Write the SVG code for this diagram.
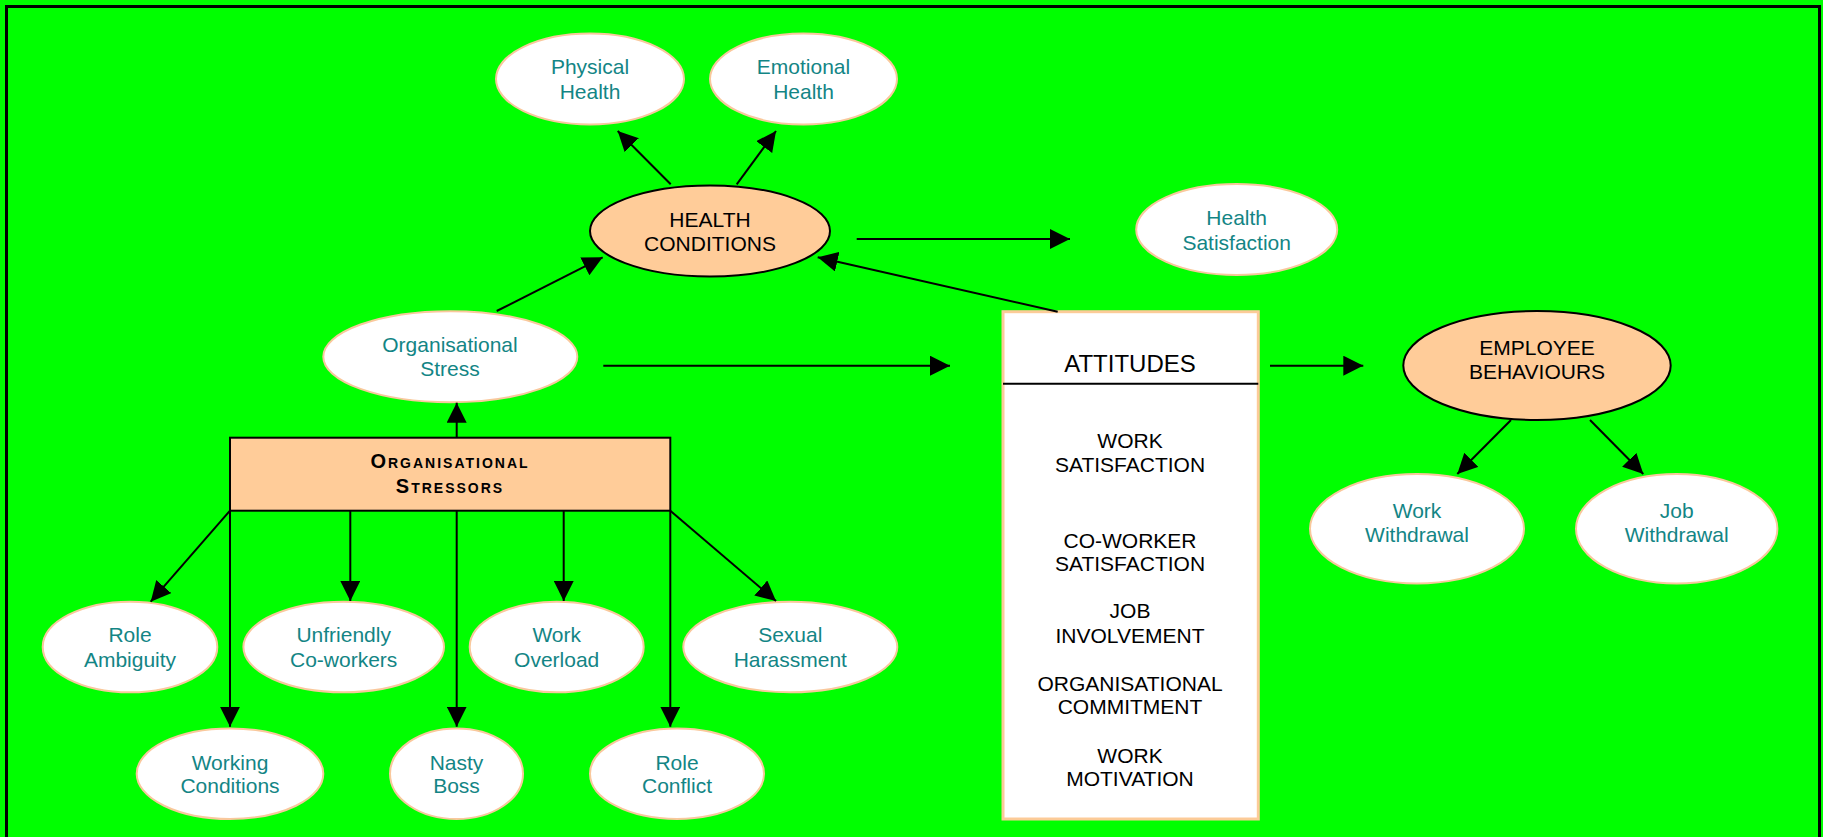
<svg xmlns="http://www.w3.org/2000/svg" width="1823" height="837" viewBox="0 0 1823 837">
<style>
.bg{fill:#00ff00}
.frame{fill:none;stroke:#000;stroke-width:3}
.wn{fill:#fff;stroke:#f9c89c;stroke-width:2}
.on{fill:#ffcc99;stroke:#000;stroke-width:2}
.tl{font-family:"Liberation Sans",Arial,sans-serif;font-size:21px;fill:#138585;text-anchor:middle}
.bl{font-family:"Liberation Sans",Arial,sans-serif;font-size:21px;fill:#000;text-anchor:middle}
.sc{font-family:"Liberation Sans",Arial,sans-serif;font-size:20px;font-weight:bold;font-variant:small-caps;letter-spacing:2px;fill:#000;text-anchor:middle}
.c line{stroke:#000;stroke-width:2;marker-end:url(#ah)}
</style>
<defs>
<marker id="ah" markerUnits="userSpaceOnUse" markerWidth="20" markerHeight="20" refX="20" refY="10" orient="auto">
<path d="M0,0 L20,10 L0,20 z" fill="#000"/>
</marker>
</defs>
<rect class="bg" x="0" y="0" width="1823" height="837"/>
<rect class="frame" x="6.5" y="6.5" width="1813" height="900"/>

<g id="physical-health"><ellipse class="wn" cx="590" cy="79" rx="94" ry="45.5"/><text class="tl" x="590" y="74.3">Physical</text><text class="tl" x="590" y="99">Health</text></g>
<g id="emotional-health"><ellipse class="wn" cx="803.5" cy="79" rx="93.5" ry="45.5"/><text class="tl" x="803.5" y="74.3">Emotional</text><text class="tl" x="803.5" y="99">Health</text></g>
<g id="health-conditions"><ellipse class="on" cx="710" cy="231" rx="120" ry="45.5"/><text class="bl" x="710" y="226.7">HEALTH</text><text class="bl" x="710" y="250.7">CONDITIONS</text></g>
<g id="health-satisfaction"><ellipse class="wn" cx="1236.7" cy="229.5" rx="100.5" ry="45.5"/><text class="tl" x="1236.7" y="225">Health</text><text class="tl" x="1236.7" y="250">Satisfaction</text></g>
<g id="organisational-stress"><ellipse class="wn" cx="450.3" cy="356.7" rx="127" ry="45.5"/><text class="tl" x="450" y="351.7">Organisational</text><text class="tl" x="450" y="376">Stress</text></g>
<g id="organisational-stressors"><rect class="on" x="230" y="437.7" width="440.3" height="73"/><text class="sc" x="450" y="468.3">Organisational</text><text class="sc" x="450" y="493.3">Stressors</text></g>
<g id="attitudes"><rect x="1003" y="311.7" width="255.3" height="507.3" fill="#fff" stroke="#fccb98" stroke-width="3"/><line x1="1003" y1="383.7" x2="1258.3" y2="383.7" stroke="#000" stroke-width="2"/>
<text x="1130" y="371.7" font-family="Liberation Sans,Arial,sans-serif" font-size="24" text-anchor="middle" fill="#000">ATTITUDES</text>
<text class="bl" x="1130" y="448.3">WORK</text><text class="bl" x="1130" y="472.3">SATISFACTION</text>
<text class="bl" x="1130" y="547.7">CO-WORKER</text><text class="bl" x="1130" y="570.7">SATISFACTION</text>
<text class="bl" x="1130" y="618.3">JOB</text><text class="bl" x="1130" y="642.7">INVOLVEMENT</text>
<text class="bl" x="1130" y="690.7">ORGANISATIONAL</text><text class="bl" x="1130" y="714">COMMITMENT</text>
<text class="bl" x="1130" y="762.7">WORK</text><text class="bl" x="1130" y="785.7">MOTIVATION</text></g>
<g id="employee-behaviours"><ellipse class="on" cx="1537" cy="365.5" rx="133.7" ry="54.5"/><text class="bl" x="1537" y="355">EMPLOYEE</text><text class="bl" x="1537" y="379">BEHAVIOURS</text></g>
<g id="work-withdrawal"><ellipse class="wn" cx="1417" cy="528.7" rx="107" ry="54.7"/><text class="tl" x="1417" y="518.3">Work</text><text class="tl" x="1417" y="542.3">Withdrawal</text></g>
<g id="job-withdrawal"><ellipse class="wn" cx="1676.7" cy="528.7" rx="100.7" ry="54.7"/><text class="tl" x="1676.7" y="518.3">Job</text><text class="tl" x="1676.7" y="542.3">Withdrawal</text></g>
<g id="role-ambiguity"><ellipse class="wn" cx="130" cy="647" rx="87.3" ry="45.3"/><text class="tl" x="130" y="641.7">Role</text><text class="tl" x="130" y="666.7">Ambiguity</text></g>
<g id="unfriendly-co-workers"><ellipse class="wn" cx="343.7" cy="647" rx="100.3" ry="45.3"/><text class="tl" x="343.7" y="641.7">Unfriendly</text><text class="tl" x="343.7" y="666.7">Co-workers</text></g>
<g id="work-overload"><ellipse class="wn" cx="556.7" cy="647" rx="87" ry="45.3"/><text class="tl" x="556.7" y="641.7">Work</text><text class="tl" x="556.7" y="666.7">Overload</text></g>
<g id="sexual-harassment"><ellipse class="wn" cx="790.3" cy="647" rx="107" ry="45.3"/><text class="tl" x="790.3" y="641.7">Sexual</text><text class="tl" x="790.3" y="666.7">Harassment</text></g>
<g id="working-conditions"><ellipse class="wn" cx="230" cy="773.7" rx="93.3" ry="45.3"/><text class="tl" x="230" y="770">Working</text><text class="tl" x="230" y="793.3">Conditions</text></g>
<g id="nasty-boss"><ellipse class="wn" cx="456.5" cy="773.7" rx="66.5" ry="45.3"/><text class="tl" x="456.5" y="770">Nasty</text><text class="tl" x="456.5" y="793.3">Boss</text></g>
<g id="role-conflict"><ellipse class="wn" cx="677" cy="773.7" rx="87" ry="45.3"/><text class="tl" x="677" y="770">Role</text><text class="tl" x="677" y="793.3">Conflict</text></g>

<g id="connectors" class="c">
<line x1="670.7" y1="184.3" x2="617.7" y2="131"/>
<line x1="736.7" y1="184.3" x2="776" y2="131"/>
<line x1="496.7" y1="311" x2="602.7" y2="257.3"/>
<line x1="856.7" y1="239" x2="1070" y2="239"/>
<line x1="1057.7" y1="311.7" x2="817.7" y2="257.3"/>
<line x1="603.3" y1="365.7" x2="950" y2="365.7"/>
<line x1="456.7" y1="437.7" x2="456.7" y2="402.7"/>
<line x1="1270" y1="365.7" x2="1363.3" y2="365.7"/>
<line x1="1511" y1="420" x2="1457.3" y2="474"/>
<line x1="1590" y1="420" x2="1643.3" y2="474"/>
<line x1="230" y1="510.7" x2="150.7" y2="601.7"/>
<line x1="230" y1="510.7" x2="230" y2="726.7"/>
<line x1="350.3" y1="510.7" x2="350.3" y2="601"/>
<line x1="456.7" y1="510.7" x2="456.7" y2="726.7"/>
<line x1="563.7" y1="510.7" x2="563.7" y2="601"/>
<line x1="670.3" y1="510.7" x2="670.3" y2="726.7"/>
<line x1="670.3" y1="510.7" x2="776" y2="601"/>
</g>
</svg>
